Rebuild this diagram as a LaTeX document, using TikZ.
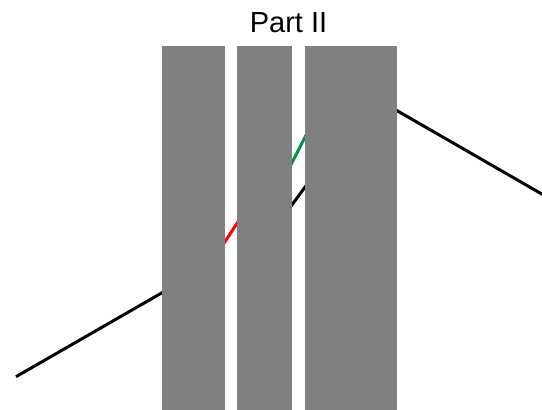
\documentclass[tikz,border=0pt]{standalone}
\usepackage{fontspec}
\setmainfont{Liberation Sans}
\definecolor{slab}{RGB}{128,128,128}
\definecolor{raygreen}{RGB}{0,146,69}
\begin{document}
\begin{tikzpicture}[x=1pt,y=-1pt,
  ray/.style={line width=3pt,line cap=butt},
  slabfill/.style={fill=slab,draw=none}]
\useasboundingbox (0,0) rectangle (542,410);
% rays
\draw[ray,black] (16,376.7) -- (168,289.3);
\draw[ray,black] (391,107.2) -- (560,204.5);
\draw[ray,red] (219,250.9) -- (243,214.1);
\draw[ray,raygreen] (287,172.5) -- (310,127.4);
\draw[ray,black] (287,211.6) -- (310,180.3);
% slabs
\fill[slabfill] (162,46) rectangle (225,410);
\fill[slabfill] (237.3,46) rectangle (292.3,410);
\fill[slabfill] (304.7,46) rectangle (396.8,410);
% title
\node[anchor=base,font=\fontsize{29}{34}\selectfont,inner sep=0pt] (title) at (288.5,32.3) {Part II};
\end{tikzpicture}
\end{document}
